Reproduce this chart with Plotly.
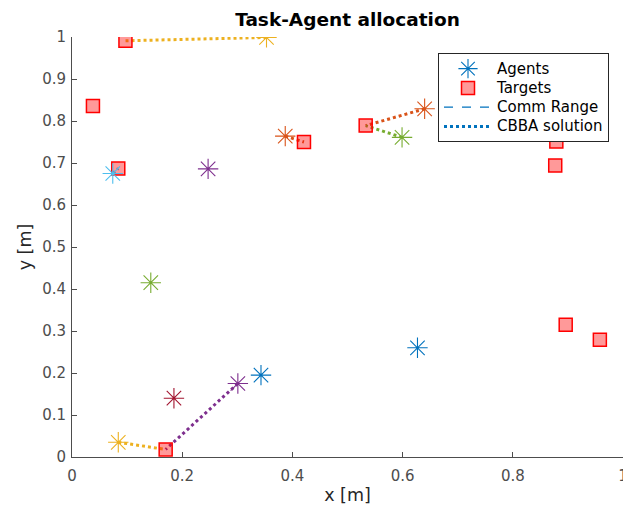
import plotly.graph_objects as go

# Agents (MATLAB color order cycles)
agent_x = [0.343, 0.387, 0.353, 0.247, 0.599, 0.074, 0.185, 0.627, 0.640, 0.084, 0.301, 0.143]
agent_y = [0.195, 0.764, 0.999, 0.686, 0.761, 0.675, 0.140, 0.260, 0.829, 0.035, 0.175, 0.415]
palette = ["#0072BD", "#D95319", "#EDB120", "#7E2F8E", "#77AC30", "#4DBEEE", "#A2142F"]

# Targets
target_x = [0.038, 0.097, 0.084, 0.421, 0.533, 0.879, 0.877, 0.170, 0.896, 0.958]
target_y = [0.836, 0.991, 0.687, 0.750, 0.789, 0.751, 0.694, 0.018, 0.315, 0.279]

# CBBA assignments: (agent index, target index)
assign = [(2, 1), (1, 3), (8, 4), (4, 4), (5, 2), (10, 7), (9, 7)]

x_ticks = [0, 0.2, 0.4, 0.6, 0.8, 1]
x_ticklabels = ["0", "0.2", "0.4", "0.6", "0.8", "1"]
y_ticks = [0, 0.1, 0.2, 0.3, 0.4, 0.5, 0.6, 0.7, 0.8, 0.9, 1]
y_ticklabels = ["0", "0.1", "0.2", "0.3", "0.4", "0.5", "0.6", "0.7", "0.8", "0.9", "1"]

legend_names = ["Agents", "Targets", "Comm Range", "CBBA solution"]

font = "DejaVu Sans"
fig = go.Figure()


def lg(name):
    return '<span style="font-size:15px">' + name + '</span>'


# Assignment lines
for a, t in assign:
    fig.add_trace(go.Scatter(
        x=[agent_x[a], target_x[t]], y=[agent_y[a], target_y[t]],
        mode="lines", line=dict(color=palette[a % 7], width=3, dash="dot"),
        showlegend=False, hoverinfo="skip"))

# Targets
fig.add_trace(go.Scatter(
    x=target_x, y=target_y, mode="markers", name="Targets",
    marker=dict(symbol="square", size=13, color="rgba(255,0,0,0.4)",
                line=dict(color="#FF0000", width=1.5)),
    showlegend=False))

# Agents
fig.add_trace(go.Scatter(
    x=agent_x, y=agent_y, mode="markers", name="Agents",
    marker=dict(symbol="asterisk-open", size=17,
                color=[palette[i % 7] for i in range(len(agent_x))],
                line=dict(width=1.1)),
    showlegend=False))

# Legend entries
fig.add_trace(go.Scatter(x=[None], y=[None], mode="markers", name=lg(legend_names[0]),
    marker=dict(symbol="asterisk-open", size=17, color=palette[0], line=dict(width=1.1))))
fig.add_trace(go.Scatter(x=[None], y=[None], mode="markers", name=lg(legend_names[1]),
    marker=dict(symbol="square", size=13, color="rgba(255,0,0,0.4)",
                line=dict(color="#FF0000", width=1.5))))
fig.add_trace(go.Scatter(x=[None], y=[None], mode="lines", name=lg(legend_names[2]),
    line=dict(color=palette[0], width=1.2, dash="dash")))
fig.add_trace(go.Scatter(x=[None], y=[None], mode="lines", name=lg(legend_names[3]),
    line=dict(color=palette[0], width=3, dash="dot")))

axis_common = dict(
    range=[0, 1], showgrid=False, zeroline=False, showline=True,
    linecolor="#4d4d4d", linewidth=1, ticks="inside", ticklen=5,
    tickcolor="#4d4d4d", tickfont=dict(family=font, size=15, color="#4d4d4d"),
    mirror=False, ticklabeloverflow="allow", automargin=False,
)

fig.update_layout(
    width=623, height=511,
    margin=dict(l=72, r=0, t=37, b=54, autoexpand=False),
    plot_bgcolor="white", paper_bgcolor="white",
    title=dict(text="<b>Task-Agent allocation</b>", x=347.5 / 623, xanchor="center",
               y=1 - 20 / 511, yanchor="middle",
               font=dict(family=font, size=18.5, color="black")),
    xaxis=dict(**axis_common, tickvals=x_ticks, ticktext=x_ticklabels,
               ticklabelstandoff=5,
               title=dict(text="x [m]", font=dict(family=font, size=17.5, color="#262626"), standoff=4)),
    yaxis=dict(**axis_common, tickvals=y_ticks, ticktext=y_ticklabels,
               ticklabelstandoff=2,
               title=dict(text="y [m]", font=dict(family=font, size=17.5, color="#262626"), standoff=6)),
    legend=dict(x=(438 - 72) / 551, y=(457 - 53) / 420, xanchor="left", yanchor="top",
                bgcolor="white", bordercolor="#262626", borderwidth=1,
                font=dict(family=font, size=12.5, color="black"),
                itemwidth=48, tracegroupgap=0),
    showlegend=True,
)

fig.write_html("out.html")
